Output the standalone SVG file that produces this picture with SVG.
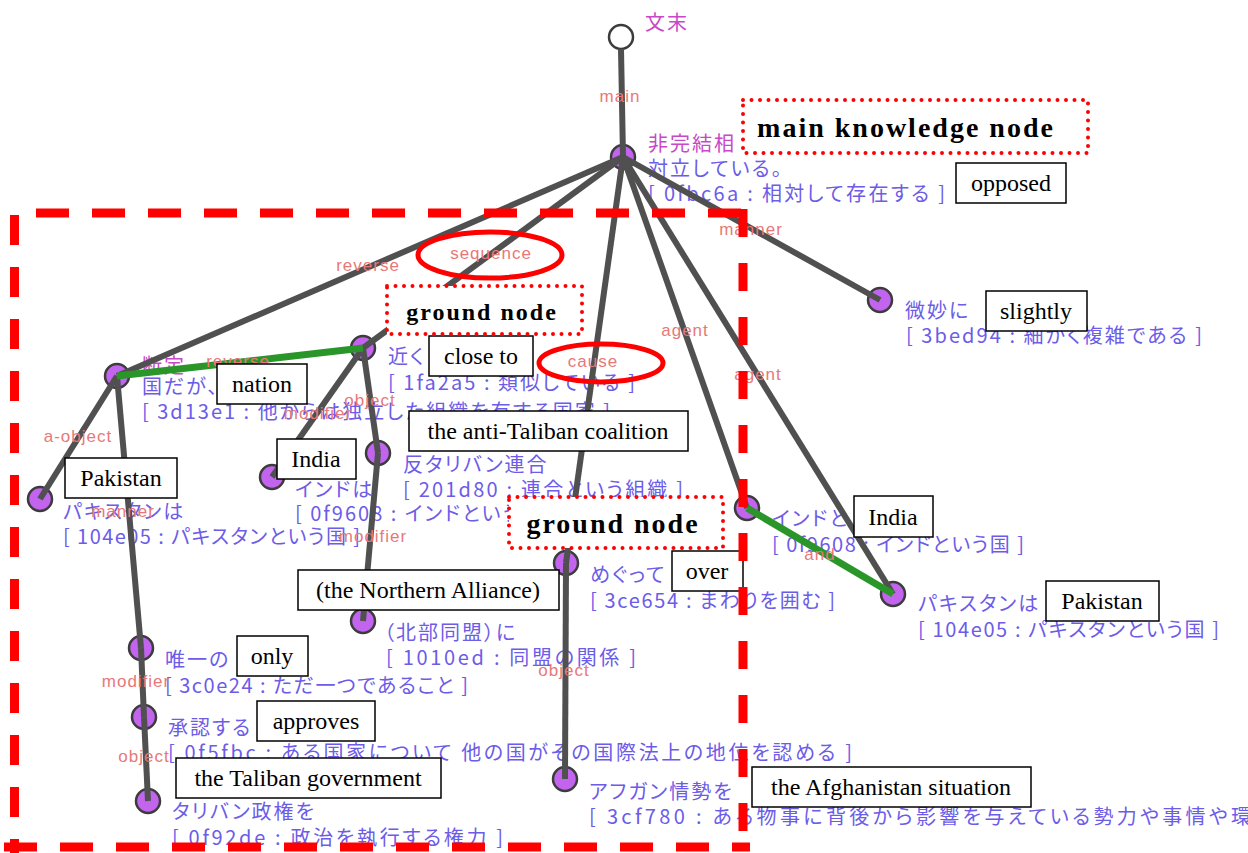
<svg xmlns="http://www.w3.org/2000/svg" width="1248" height="853" viewBox="0 0 1248 853">
  <style>
    .e { stroke: #505050; stroke-width: 6; fill: none; }
    .g { stroke: #2a962a; stroke-width: 7; fill: none; }
    .n { fill: #c264ee; stroke: #3c3c3c; stroke-width: 2.5; }
    .r { fill: #ffffff; stroke: #3c3c3c; stroke-width: 2.5; }
    .jp { font-family: "Noto Sans CJK JP", sans-serif; font-size: 20px; fill: #6c5ce8; font-feature-settings: "palt"; letter-spacing: 2px; }
    .fit { letter-spacing: 0; }
    .mg { fill: #c848c8; }
    .el { font-family: "Liberation Sans", sans-serif; font-size: 17px; fill: #e87878; letter-spacing: 1px; text-anchor: middle; }
    .box rect { fill: #ffffff; stroke: #000000; stroke-width: 1.5; }
    .box text { font-family: "Liberation Serif", serif; font-size: 24px; fill: #000000; text-anchor: middle; }
    .dot { fill: #ffffff; stroke: #ff0000; stroke-width: 4; stroke-dasharray: 0 8.5; stroke-linecap: round; }
    .ring { fill: none; stroke: #ff0000; stroke-width: 5; }
    .frame { stroke: #ff0000; stroke-width: 9; fill: none; }
    .hd { font-family: "Liberation Serif", serif; font-weight: bold; fill: #000000; letter-spacing: 2px; text-anchor: middle; }
  </style>

  <rect width="1248" height="853" fill="#ffffff"/>

  <!-- nodes -->
  <g id="node-root">
    <circle class="r" cx="621" cy="37" r="12"/>
    <text class="jp mg" x="645" y="30" font-size="17">文末</text>
  </g>
  <g id="node-main">
    <circle class="n" cx="623" cy="157" r="12"/>
    <text class="jp mg" x="648" y="151">非完結相</text>
    <text class="jp" x="648" y="176">対立している。</text>
    <text class="jp fit" x="648" y="201" textLength="297" lengthAdjust="spacing">[ 0fbc6a : 相対して存在する ]</text>
  </g>
  <g id="node-dantei">
    <circle class="n" cx="117" cy="376" r="12"/>
    <text class="jp mg" x="142" y="373">断定</text>
    <text class="jp" x="142" y="394">国だが、</text>
    <text class="jp" x="142" y="419">[ 3d13e1 : 他からは独立した組織を有する国家 ]</text>
  </g>
  <g id="node-chikaku">
    <circle class="n" cx="363" cy="348" r="12"/>
    <text class="jp" x="388" y="364">近く</text>
    <text class="jp fit" x="388" y="390" textLength="247" lengthAdjust="spacing">[ 1fa2a5 : 類似している ]</text>
  </g>
  <g id="node-pakistan-1">
    <circle class="n" cx="40" cy="499" r="12"/>
    <text class="jp" x="63" y="519">パキスタンは</text>
    <text class="jp fit" x="63" y="544" textLength="297" lengthAdjust="spacing">[ 104e05 : パキスタンという国 ]</text>
  </g>
  <g id="node-india-1">
    <circle class="n" cx="272" cy="477" r="12"/>
    <text class="jp" x="295" y="497">インドは</text>
    <text class="jp" x="295" y="521">[ 0f9608 : インドという国 ]</text>
  </g>
  <g id="node-coalition">
    <circle class="n" cx="378" cy="453" r="12"/>
    <text class="jp" x="403" y="472">反タリバン連合</text>
    <text class="jp fit" x="403" y="497" textLength="280" lengthAdjust="spacing">[ 201d80 : 連合という組織 ]</text>
  </g>
  <g id="node-yuiitsu">
    <circle class="n" cx="141" cy="648" r="12"/>
    <text class="jp" x="165" y="667">唯一の</text>
    <text class="jp fit" x="165" y="693" textLength="303" lengthAdjust="spacing">[ 3c0e24 : ただ一つであること ]</text>
  </g>
  <g id="node-shounin">
    <circle class="n" cx="144" cy="717" r="12"/>
    <text class="jp" x="168" y="735">承認する</text>
    <text class="jp fit" x="168" y="760" textLength="684" lengthAdjust="spacing">[ 0f5fbc : ある国家について 他の国がその国際法上の地位を認める ]</text>
  </g>
  <g id="node-seiken">
    <circle class="n" cx="148" cy="801" r="12"/>
    <text class="jp" x="172" y="819">タリバン政権を</text>
    <text class="jp fit" x="172" y="845" textLength="331" lengthAdjust="spacing">[ 0f92de : 政治を執行する権力 ]</text>
  </g>
  <g id="node-alliance">
    <circle class="n" cx="363" cy="621" r="12"/>
    <text class="jp" x="384" y="640">（北部同盟）に</text>
    <text class="jp fit" x="386" y="665" textLength="250" lengthAdjust="spacing">[ 1010ed : 同盟の関係 ]</text>
  </g>
  <g id="node-megutte">
    <circle class="n" cx="566" cy="563" r="12"/>
    <text class="jp" x="590" y="582">めぐって</text>
    <text class="jp fit" x="590" y="608" textLength="245" lengthAdjust="spacing">[ 3ce654 : まわりを囲む ]</text>
  </g>
  <g id="node-afghan">
    <circle class="n" cx="565" cy="779" r="12"/>
    <text class="jp" x="589" y="799">アフガン情勢を</text>
    <text class="jp fit" x="589" y="824" textLength="662" lengthAdjust="spacing">[ 3cf780 : ある物事に背後から影響を与えている勢力や事情や環</text>
  </g>
  <g id="node-bimyou">
    <circle class="n" cx="880" cy="300" r="12"/>
    <text class="jp" x="905" y="318">微妙に</text>
    <text class="jp fit" x="906" y="343" textLength="296" lengthAdjust="spacing">[ 3bed94 : 細かく複雑である ]</text>
  </g>
  <g id="node-india-2">
    <circle class="n" cx="747" cy="508" r="12"/>
    <text class="jp" x="772" y="526">インドと</text>
    <text class="jp fit" x="772" y="552" textLength="252" lengthAdjust="spacing">[ 0f9608 : インドという国 ]</text>
  </g>
  <g id="node-pakistan-2">
    <circle class="n" cx="893" cy="594" r="12"/>
    <text class="jp" x="918" y="611">パキスタンは</text>
    <text class="jp fit" x="918" y="637" textLength="301" lengthAdjust="spacing">[ 104e05 : パキスタンという国 ]</text>
  </g>

  <!-- connectors -->
  <g id="connectors">
    <line class="e" x1="621" y1="49" x2="623" y2="157"/>
    <line class="e" x1="623" y1="157" x2="117" y2="376"/>
    <line class="e" x1="623" y1="157" x2="363" y2="348"/>
    <line class="e" x1="623" y1="157" x2="566" y2="563"/>
    <line class="e" x1="623" y1="157" x2="880" y2="300"/>
    <line class="e" x1="623" y1="157" x2="747" y2="508"/>
    <line class="e" x1="623" y1="157" x2="893" y2="594"/>
    <line class="e" x1="117" y1="376" x2="40" y2="499"/>
    <line class="e" x1="117" y1="376" x2="141" y2="648"/>
    <line class="e" x1="363" y1="348" x2="272" y2="477"/>
    <line class="e" x1="363" y1="348" x2="378" y2="453"/>
    <line class="e" x1="378" y1="453" x2="363" y2="621"/>
    <line class="e" x1="141" y1="648" x2="144" y2="717"/>
    <line class="e" x1="144" y1="717" x2="148" y2="801"/>
    <line class="e" x1="566" y1="563" x2="565" y2="779"/>
    <line class="g" x1="117" y1="376" x2="363" y2="348"/>
    <line class="g" x1="893" y1="594" x2="747" y2="508"/>

    <text class="el" x="620" y="102">main</text>
    <text class="el" x="368" y="271">reverse</text>
    <text class="el" x="491" y="259">sequence</text>
    <text class="el" x="593" y="367">cause</text>
    <text class="el" x="751" y="235">manner</text>
    <text class="el" x="685" y="336">agent</text>
    <text class="el" x="758" y="380">agent</text>
    <text class="el" x="238" y="367">reverse</text>
    <text class="el" x="78" y="442">a-object</text>
    <text class="el" x="123" y="517">manner</text>
    <text class="el" x="370" y="406">object</text>
    <text class="el" x="318" y="419">modifier</text>
    <text class="el" x="373" y="542">modifier</text>
    <text class="el" x="136" y="687">modifier</text>
    <text class="el" x="144" y="762">object</text>
    <text class="el" x="564" y="676">object</text>
    <text class="el" x="820" y="560" font-size="14">and</text>
  </g>

  <!-- translation boxes -->
  <g class="box">
    <rect x="956" y="163" width="110" height="40"/><text x="1011" y="191">opposed</text>
    <rect x="986" y="291" width="101" height="40"/><text x="1036" y="319">slightly</text>
    <rect x="429" y="336" width="104" height="40"/><text x="481" y="364">close to</text>
    <rect x="217" y="364" width="90" height="40"/><text x="262" y="392">nation</text>
    <rect x="65" y="458" width="112" height="40"/><text x="121" y="486">Pakistan</text>
    <rect x="277" y="439" width="79" height="40"/><text x="316" y="467">India</text>
    <rect x="409" y="411" width="279" height="40"/><text x="548" y="439">the anti-Taliban coalition</text>
    <rect x="854" y="496" width="79" height="41"/><text x="893" y="525">India</text>
    <rect x="1046" y="581" width="113" height="40"/><text x="1102" y="609">Pakistan</text>
    <rect x="672" y="551" width="71" height="40"/><text x="707" y="579">over</text>
    <rect x="298" y="570" width="261" height="40"/><text x="428" y="598">(the Northern Alliance)</text>
    <rect x="237" y="636" width="71" height="40"/><text x="272" y="664">only</text>
    <rect x="257" y="701" width="118" height="40"/><text x="316" y="729">approves</text>
    <rect x="176" y="758" width="265" height="40"/><text x="308" y="786">the Taliban government</text>
    <rect x="752" y="767" width="279" height="40"/><text x="891" y="795">the Afghanistan situation</text>
  </g>

  <!-- highlighted edge labels -->
  <ellipse class="ring" cx="490" cy="255" rx="72" ry="23"/>
  <ellipse class="ring" cx="601" cy="363" rx="62" ry="19"/>

  <!-- emphasis boxes -->
  <g id="main-knowledge-node">
    <rect class="dot" x="743" y="100" width="345" height="53"/>
    <text class="hd" x="906" y="137" font-size="28">main knowledge node</text>
  </g>
  <g id="ground-node-1">
    <rect class="dot" x="387" y="286" width="195" height="48"/>
    <text class="hd" x="482" y="320" font-size="24">ground node</text>
  </g>
  <g id="ground-node-2">
    <rect class="dot" x="509" y="497" width="214" height="51"/>
    <text class="hd" x="613" y="533" font-size="28">ground node</text>
  </g>

  <!-- dashed frame around the grounded sub-structure -->
  <g id="frame">
    <line class="frame" x1="36" y1="213" x2="747" y2="213" stroke-dasharray="33 23"/>
    <line class="frame" x1="14.5" y1="215" x2="14.5" y2="853" stroke-dasharray="30 22"/>
    <line class="frame" x1="743" y1="209" x2="743" y2="853" stroke-dasharray="28 26"/>
    <line class="frame" x1="4" y1="847" x2="750" y2="847" stroke-dasharray="33 23"/>
  </g>
</svg>
